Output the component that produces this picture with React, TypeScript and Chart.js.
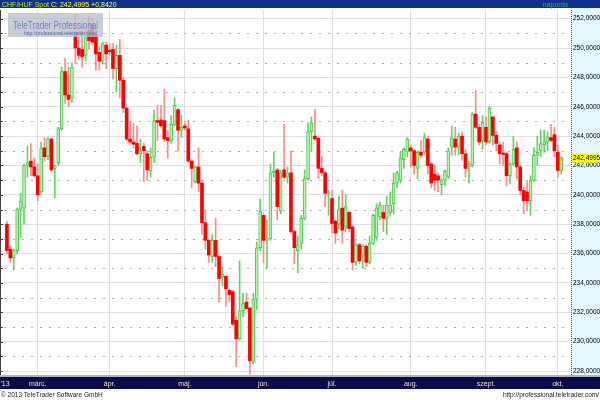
import React, { useEffect, useRef } from "react";
import { Chart, registerables } from "chart.js";

Chart.register(...registerables);

// Daily CHF/HUF candles, first candle = trading day -9 relative to 1 March 2013
const FIRST_DAY = -9;

const opens = [
  238.0, 236.3, 235.7, 236.2, 239.0, 239.1, 242.0, 242.3, 241.9, 241.3,
  240.2, 243.2, 242.6, 243.8, 241.8, 242.2, 244.5, 248.4, 246.8, 246.6,
  250.9, 250.0, 249.9, 249.5, 251.2, 251.6, 250.9, 249.7, 249.1, 250.2,
  249.85, 249.9, 248.6, 249.5, 247.8, 245.9, 243.8, 243.6, 243.5, 242.8,
  243.3, 242.8, 241.65, 242.56, 245.06, 245.1, 245.06, 243.9, 243.7, 244.8,
  245.8, 244.4, 244.7, 244.5, 242.3, 240.9, 241.9, 240.8, 238.1, 236.9,
  235.8, 236.9, 235.8, 234.4, 234.45, 233.5, 233.4, 231.45, 230.2, 232.1,
  232.7, 232.3, 228.6, 232.9, 236.4, 238.6, 236.9, 237.0, 241.5, 241.7,
  238.9, 241.7, 241.2, 241.5, 237.5, 236.2, 236.7, 238.4, 241.1, 244.3,
  244.0, 243.85, 241.8, 241.5, 240.1, 239.75, 238.2, 238.0, 239.1, 237.8,
  238.8, 237.8, 235.4, 236.6, 235.9, 236.5, 235.4, 236.7, 237.1, 238.5,
  238.8, 238.4, 238.8, 239.4, 240.8, 241.0, 242.4, 242.9, 243.2, 243.0,
  241.8, 242.9, 242.9, 243.8, 242.1, 241.4, 241.3, 240.7, 241.0, 241.2,
  243.3, 243.8, 243.25, 244.0, 242.8, 241.9, 242.0, 245.5, 244.6, 243.7,
  244.6, 243.6, 245.3, 244.05, 243.4, 242.85, 242.8, 241.3, 242.1, 243.2,
  241.9, 240.3, 240.2, 239.6, 241.0, 242.7, 243.0, 243.4, 243.6, 243.9,
  244.1, 242.9, 241.66,
];

const highs = [
  238.2, 236.5, 236.3, 239.1, 240.1, 242.1, 243.3, 243.5, 242.5, 242.1,
  243.6, 243.9, 243.9, 243.9, 242.0, 244.6, 248.7, 249.3, 248.7, 249.0,
  252.3, 251.2, 251.5, 251.3, 252.2, 252.0, 251.2, 250.1, 250.4, 250.4,
  250.3, 250.3, 250.2, 250.6, 248.0, 246.0, 245.0, 244.9, 244.7, 243.8,
  243.5, 243.0, 243.2, 245.75, 246.1, 246.1, 247.2, 244.4, 245.4, 246.6,
  245.9, 245.4, 244.9, 245.1, 242.4, 242.0, 243.2, 241.0, 239.0, 237.0,
  237.3, 238.4, 235.9, 235.1, 234.5, 233.6, 233.5, 231.7, 235.5, 233.3,
  233.3, 232.3, 233.3, 236.8, 239.7, 238.7, 238.3, 242.1, 242.9, 241.8,
  241.7, 244.8, 241.9, 243.0, 237.6, 237.2, 238.6, 241.7, 244.9, 245.3,
  245.8, 243.9, 242.6, 241.6, 240.3, 240.3, 238.3, 239.9, 240.3, 240.0,
  238.9, 237.9, 236.7, 236.7, 236.6, 236.6, 237.2, 238.7, 239.4, 239.5,
  239.3, 239.9, 240.2, 241.5, 241.6, 242.9, 243.2, 243.9, 243.4, 243.1,
  243.0, 243.7, 244.2, 244.0, 242.2, 242.0, 241.5, 241.1, 241.7, 243.2,
  244.7, 244.6, 244.2, 244.3, 243.1, 242.3, 245.6, 247.1, 244.8, 245.4,
  245.3, 246.0, 245.4, 244.3, 243.6, 243.6, 242.9, 242.2, 244.0, 243.6,
  242.0, 240.5, 240.9, 241.3, 243.2, 244.0, 244.4, 244.4, 244.3, 244.8,
  244.6, 243.4, 242.6,
];

const lows = [
  236.0, 235.4, 234.9, 236.0, 237.1, 238.0, 241.2, 241.3, 241.2, 239.6,
  240.1, 242.3, 242.4, 241.6, 239.8, 242.0, 244.4, 246.2, 246.0, 246.3,
  248.9, 249.2, 248.7, 249.1, 249.9, 250.2, 248.5, 248.5, 248.9, 248.6,
  249.5, 247.9, 247.0, 246.6, 245.6, 243.7, 243.5, 243.2, 242.7, 242.2,
  240.9, 241.0, 241.2, 242.2, 243.7, 244.6, 243.6, 242.5, 243.5, 244.7,
  243.0, 243.9, 244.4, 242.2, 240.5, 240.8, 240.2, 237.3, 236.3, 235.4,
  235.4, 235.1, 232.7, 233.8, 232.4, 232.7, 231.1, 228.3, 230.1, 231.7,
  232.2, 227.8, 228.5, 232.2, 236.2, 235.4, 235.0, 236.9, 241.2, 238.3,
  238.7, 241.1, 240.8, 237.4, 235.3, 234.7, 236.3, 238.3, 241.0, 243.0,
  243.7, 241.1, 241.3, 239.2, 238.6, 237.4, 236.7, 237.7, 236.7, 237.5,
  237.5, 234.9, 235.2, 235.3, 235.0, 235.1, 235.3, 236.6, 236.9, 238.3,
  237.5, 237.3, 238.6, 238.7, 240.5, 240.8, 241.8, 242.6, 241.9, 241.4,
  241.1, 242.5, 242.7, 241.4, 240.5, 240.3, 240.2, 240.0, 240.6, 241.1,
  242.7, 242.7, 242.7, 242.35, 241.2, 240.8, 241.9, 244.5, 243.4, 243.1,
  243.4, 243.5, 243.4, 243.0, 242.1, 242.0, 240.6, 240.75, 242.0, 241.1,
  240.0, 238.7, 239.0, 238.6, 240.9, 242.0, 242.6, 242.9, 243.0, 243.6,
  242.6, 241.2, 241.4,
];

const closes = [
  236.2, 235.7, 236.2, 239.0, 239.6, 242.0, 242.2, 241.9, 241.3, 240.0,
  243.2, 242.6, 243.8, 241.7, 242.0, 244.5, 248.4, 246.8, 246.5, 248.7,
  250.0, 249.5, 249.4, 251.0, 250.5, 250.4, 249.6, 249.1, 250.3, 249.6,
  249.75, 248.6, 249.5, 247.8, 245.9, 243.8, 243.6, 243.45, 242.8, 243.0,
  243.0, 241.7, 242.56, 245.06, 244.94, 244.7, 243.8, 243.7, 244.8, 246.1,
  244.4, 244.6, 244.55, 242.3, 241.8, 241.9, 240.8, 238.1, 236.9, 235.9,
  236.9, 235.8, 234.3, 234.6, 233.6, 233.2, 231.2, 230.2, 232.1, 232.6,
  232.25, 228.7, 232.9, 236.4, 238.9, 236.9, 237.0, 241.5, 241.6, 239.2,
  241.5, 241.2, 241.5, 237.5, 236.4, 236.6, 238.4, 241.1, 244.3, 244.9,
  243.8, 241.8, 241.5, 240.1, 240.2, 238.05, 237.4, 239.0, 237.6, 239.2,
  237.7, 235.4, 236.6, 235.5, 236.5, 235.4, 236.7, 238.6, 239.1, 239.3,
  238.4, 239.3, 239.3, 240.8, 241.5, 242.5, 243.1, 243.8, 243.0, 242.0,
  242.9, 242.7, 243.9, 242.0, 240.8, 241.0, 241.0, 241.0, 241.6, 243.0,
  243.9, 243.25, 244.0, 242.8, 241.8, 242.1, 245.5, 244.6, 243.6, 244.95,
  243.6, 245.9, 244.05, 243.5, 242.8, 242.75, 241.3, 242.1, 243.1, 241.9,
  240.3, 239.6, 239.6, 241.0, 242.7, 242.9, 243.5, 243.6, 243.9, 243.7,
  243.0, 241.66, 242.4995,
];

// Month ticks (trading-day index relative to 1 March 2013)
const monthTickIndex = [-9.55, 0, 21, 43, 66, 86, 109, 131, 152];
const monthTickLabels = ["'13", "márc.", "ápr.", "máj.", "jún.", "júl.", "aug.", "szept.", "okt."];

const instrument = "CHF/HUF Spot";
const lastPrice = 242.4995;
const change = 0.842;
const period = "naponta";
const copyright = "© 2013 TeleTrader Software GmbH";
const siteUrl = "http://professional.teletrader.com/";
const watermarkTitle = "TeleTrader Professional";

const Y_MIN = 227.73;
const Y_MAX = 252.59;
const X_MIN = -11.02;
const X_MAX = 155.84;

const FONT = "'Liberation Sans', Arial, sans-serif";
const fmt4 = (v: number) => v.toFixed(4).replace(".", ",");

const decor = {
  id: "decor",
  beforeDraw(chart: any) {
    const { ctx, width, height, chartArea: a } = chart;
    ctx.save();
    ctx.fillStyle = "#ffffff";
    ctx.fillRect(0, 0, width, height);
    ctx.fillStyle = "#e3f8fd";
    ctx.fillRect(a.right, 8, width - a.right, a.bottom - 8);
    ctx.fillStyle = "#12318c";
    ctx.fillRect(0, 0, width, 8);
    ctx.fillStyle = "#b4b4b4";
    ctx.fillRect(0, a.bottom, width, 2);
    ctx.fillStyle = "#0b0b4a";
    ctx.fillRect(0, a.bottom + 2, width, 12);
    ctx.restore();
  },
  beforeDatasetsDraw(chart: any) {
    const { ctx, chartArea: a, scales } = chart;
    const y = scales.y;
    ctx.save();
    ctx.lineWidth = 1;
    ctx.strokeStyle = "#b2b2b2";
    ctx.setLineDash([2, 7]);
    for (let v = Math.ceil(y.min); v <= y.max; v++) {
      if (v % 2 === 0) continue;
      const py = Math.round(y.getPixelForValue(v)) + 0.5;
      ctx.beginPath();
      ctx.moveTo(a.left + 4, py);
      ctx.lineTo(a.right, py);
      ctx.stroke();
    }
    ctx.setLineDash([]);
    ctx.strokeStyle = "#404040";
    ctx.beginPath();
    ctx.moveTo(0.5, a.top);
    ctx.lineTo(0.5, a.bottom);
    ctx.stroke();
    for (let v = Math.ceil(y.min); v <= y.max; v++) {
      const py = Math.round(y.getPixelForValue(v)) + 0.5;
      ctx.beginPath();
      ctx.moveTo(0, py);
      ctx.lineTo(3, py);
      ctx.stroke();
    }
    ctx.strokeStyle = "#6a6a40";
    ctx.setLineDash([1, 1]);
    ctx.beginPath();
    ctx.moveTo(a.right + 0.5, a.top);
    ctx.lineTo(a.right + 0.5, a.bottom);
    ctx.stroke();
    ctx.restore();
  },
  afterDatasetsDraw(chart: any) {
    const { ctx } = chart;
    ctx.save();
    ctx.fillStyle = "rgba(188,192,204,0.8)";
    ctx.fillRect(8, 13, 95, 24);
    ctx.fillStyle = "#6f84b6";
    ctx.font = `10px ${FONT}`;
    ctx.textBaseline = "alphabetic";
    ctx.textAlign = "left";
    ctx.fillText(watermarkTitle, 13, 28.5, 85);
    ctx.fillStyle = "#4c64a0";
    ctx.font = `6px ${FONT}`;
    ctx.fillText(siteUrl, 24, 35, 73);
    ctx.restore();
  },
  afterDraw(chart: any) {
    const { ctx, width, chartArea: a, scales } = chart;
    ctx.save();
    ctx.textBaseline = "alphabetic";
    ctx.font = `7px ${FONT}`;
    ctx.textAlign = "left";
    ctx.fillStyle = "#c8e400";
    ctx.fillText(instrument, 2, 6.5);
    const w = ctx.measureText(instrument + " ").width;
    ctx.fillStyle = "#ffff33";
    ctx.fillText(`C: ${fmt4(lastPrice)} ${change >= 0 ? "+" : ""}${fmt4(change)}`, 2 + w, 6.5);
    ctx.fillStyle = "#00d020";
    ctx.textAlign = "right";
    ctx.fillText(period, 568, 6.5);

    // last price tag
    const py = scales.y.getPixelForValue(lastPrice);
    ctx.fillStyle = "#ffff00";
    ctx.fillRect(a.right + 1, py - 4.5, 26, 9);
    ctx.fillStyle = "#000000";
    ctx.font = `6.5px ${FONT}`;
    ctx.textAlign = "left";
    ctx.textBaseline = "middle";
    ctx.fillText(fmt4(lastPrice), a.right + 2, py + 0.5);

    // footer
    ctx.textBaseline = "alphabetic";
    ctx.font = `6.5px ${FONT}`;
    ctx.fillStyle = "#222222";
    ctx.textAlign = "left";
    ctx.fillText(copyright, 1, 397);
    ctx.textAlign = "right";
    ctx.fillText(siteUrl, width - 1, 397);
    ctx.restore();
  },
};

export default function App() {
  const ref = useRef<HTMLCanvasElement>(null);

  useEffect(() => {
    const canvas = ref.current;
    if (!canvas) return;
    const up = (i: number) => closes[i] >= opens[i];
    const wickData = opens.map((_, i) => ({ x: FIRST_DAY + i, y: [lows[i], highs[i]] }));
    const bodyData = opens.map((_, i) => ({ x: FIRST_DAY + i, y: [opens[i], closes[i]] }));

    const chart = new Chart(canvas, {
      type: "bar",
      data: {
        datasets: [
          {
            label: "wick",
            data: wickData as any,
            barThickness: 1,
            backgroundColor: (c: any) => (up(c.dataIndex) ? "#62d462" : "#ff8a8a"),
            borderWidth: 0,
            grouped: false,
            order: 2,
          } as any,
          {
            label: "body",
            data: bodyData as any,
            barThickness: 3,
            minBarLength: 1,
            backgroundColor: (c: any) => (up(c.dataIndex) ? "#bdf2b6" : "#ff0000"),
            borderColor: (c: any) => (up(c.dataIndex) ? "#4ac64a" : "#ff0000"),
            borderWidth: (c: any) => (up(c.dataIndex) ? 1 : 0),
            borderSkipped: false,
            grouped: false,
            order: 1,
          } as any,
        ],
      },
      options: {
        animation: false,
        responsive: false,
        maintainAspectRatio: false,
        events: [],
        layout: { padding: { top: 10, left: 0, right: 0, bottom: 0 } },
        plugins: {
          legend: { display: false },
          tooltip: { enabled: false },
          title: { display: false },
        },
        scales: {
          x: {
            type: "linear",
            min: X_MIN,
            max: X_MAX,
            offset: false,
            afterBuildTicks: (s: any) => {
              s.ticks = monthTickIndex.map((v) => ({ value: v }));
            },
            afterFit: (s: any) => {
              s.height = 25;
              s.paddingLeft = 0;
              s.paddingRight = 0;
            },
            grid: {
              offset: false,
              drawTicks: false,
              lineWidth: 1,
              color: (c: any) => (c.index === 0 ? "rgba(0,0,0,0)" : "#e4dde4"),
            },
            border: { display: false },
            ticks: {
              autoSkip: false,
              maxRotation: 0,
              minRotation: 0,
              padding: 5,
              color: "#e8e2c0",
              font: { family: FONT, size: 7 },
              callback: (_v: any, i: number) => monthTickLabels[i],
            },
          },
          y: {
            type: "linear",
            position: "right",
            min: Y_MIN,
            max: Y_MAX,
            afterFit: (s: any) => {
              s.width = 29;
              s.paddingTop = 0;
              s.paddingBottom = 0;
            },
            grid: { drawTicks: false, color: "#e4dde4", lineWidth: 1 },
            border: { display: false },
            ticks: {
              stepSize: 2,
              includeBounds: false,
              padding: 2,
              color: "#000000",
              font: { family: FONT, size: 6.5 },
              callback: (v: any) => fmt4(Number(v)),
            },
          },
        },
      } as any,
      plugins: [decor],
    });
    return () => chart.destroy();
  }, []);

  return (
    <div style={{ position: "absolute", left: 0, top: 0, width: 600, height: 400 }}>
      <canvas ref={ref} width={600} height={400} style={{ display: "block", width: 600, height: 400 }} />
    </div>
  );
}
